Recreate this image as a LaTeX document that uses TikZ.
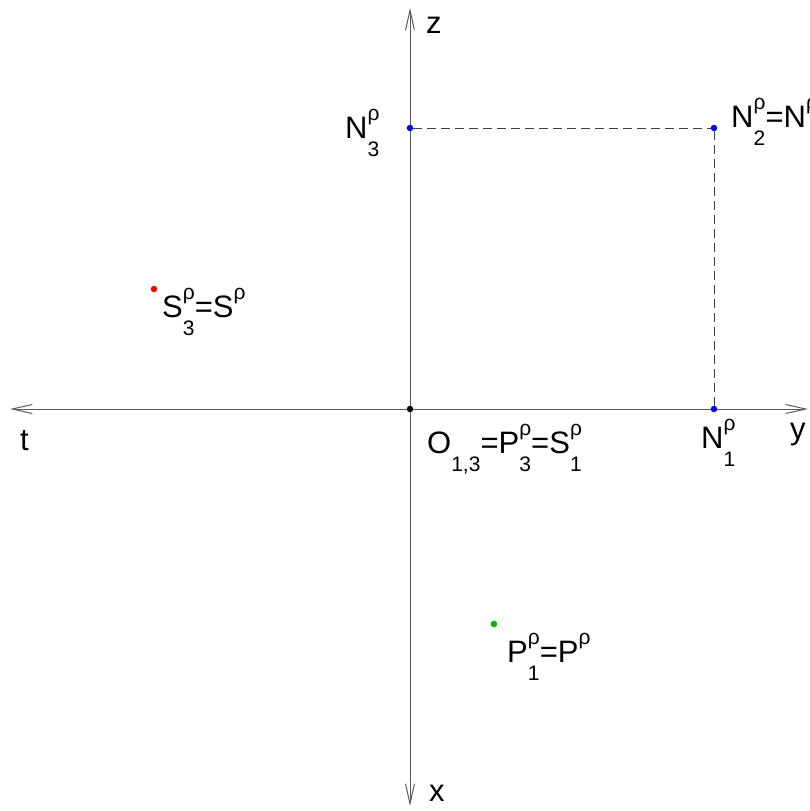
\documentclass[tikz,border=0pt]{standalone}
\usepackage{fontspec}
\setmainfont{Liberation Sans}
\usetikzlibrary{arrows.meta}
\definecolor{axisstroke}{HTML}{5A5A5A}
\definecolor{pointblue}{HTML}{0000FF}
\definecolor{pointred}{HTML}{FF0000}
\definecolor{pointgreen}{HTML}{00B400}
% stacked sub- and superscript, the way the plot prints them
\newcommand{\subsup}[2]{{\fontsize{21}{21}\selectfont
  \setbox0=\hbox{#1}\setbox2=\hbox{#2}%
  \dimen0=\wd0 \ifdim\wd2>\dimen0 \dimen0=\wd2\fi
  \hbox to\dimen0{\rlap{\raisebox{-18pt}{\box0}}\raisebox{18pt}{\box2}\hfil}}}
\tikzset{
  axis/.style={
    draw=axisstroke, line width=1pt,
    {Straight Barb[length=20pt,width=9pt]}-{Straight Barb[length=20pt,width=9pt]}
  },
  guide/.style={draw=black!75, line width=0.8pt, dash pattern=on 9pt off 5pt},
  pointdot/.style={circle, inner sep=0pt, minimum size=6.5pt},
  ptlabel/.style={anchor=base west, inner sep=0pt, font=\fontsize{31}{31}\selectfont}
}

\begin{document}
\begin{tikzpicture}[x=1pt,y=-1pt]
  \useasboundingbox (0,0) rectangle (810,811);

  % axes
  \coordinate (tend) at (10,409);
  \coordinate (yend) at (808,409);
  \coordinate (zend) at (410,8);
  \coordinate (xend) at (410,806);
  \draw[axis] (tend) -- (yend);
  \draw[axis] (xend) -- (zend);
  \node[ptlabel] (tlab) at (20,450) {t};
  \node[ptlabel] (ylab) at (790,439) {y};
  \node[ptlabel] (zlab) at (426,33) {z};
  \node[ptlabel] (xlab) at (429,801) {x};

  % points
  \node[pointdot, fill=black] (o13) at (410,409) {};
  \node[pointdot, fill=pointblue] (n3) at (410,128) {};
  \node[pointdot, fill=pointblue] (n2) at (714,128) {};
  \node[pointdot, fill=pointblue] (n1) at (714,409) {};
  \node[pointdot, fill=pointred] (s3) at (154,289) {};
  \node[pointdot, fill=pointgreen] (p1) at (494,624) {};

  \draw[guide] (n3) -- (n2);
  \draw[guide] (n2) -- (n1);

  % labels
  \node[ptlabel] (n3lab) at (345,138) {N\subsup{3}{ρ}};
  \node[ptlabel] (n2lab) at (731,127) {N\subsup{2}{ρ}=N\subsup{}{ρ}};
  \node[ptlabel] (n1lab) at (701,448) {N\subsup{1}{ρ}};
  \node[ptlabel] (s3lab) at (162,317) {S\subsup{3}{ρ}=S\subsup{}{ρ}};
  \node[ptlabel] (o13lab) at (427,453) {O\subsup{1,3}{}=P\subsup{3}{ρ}=S\subsup{1}{ρ}};
  \node[ptlabel] (p1lab) at (507,662) {P\subsup{1}{ρ}=P\subsup{}{ρ}};
\end{tikzpicture}
\end{document}
